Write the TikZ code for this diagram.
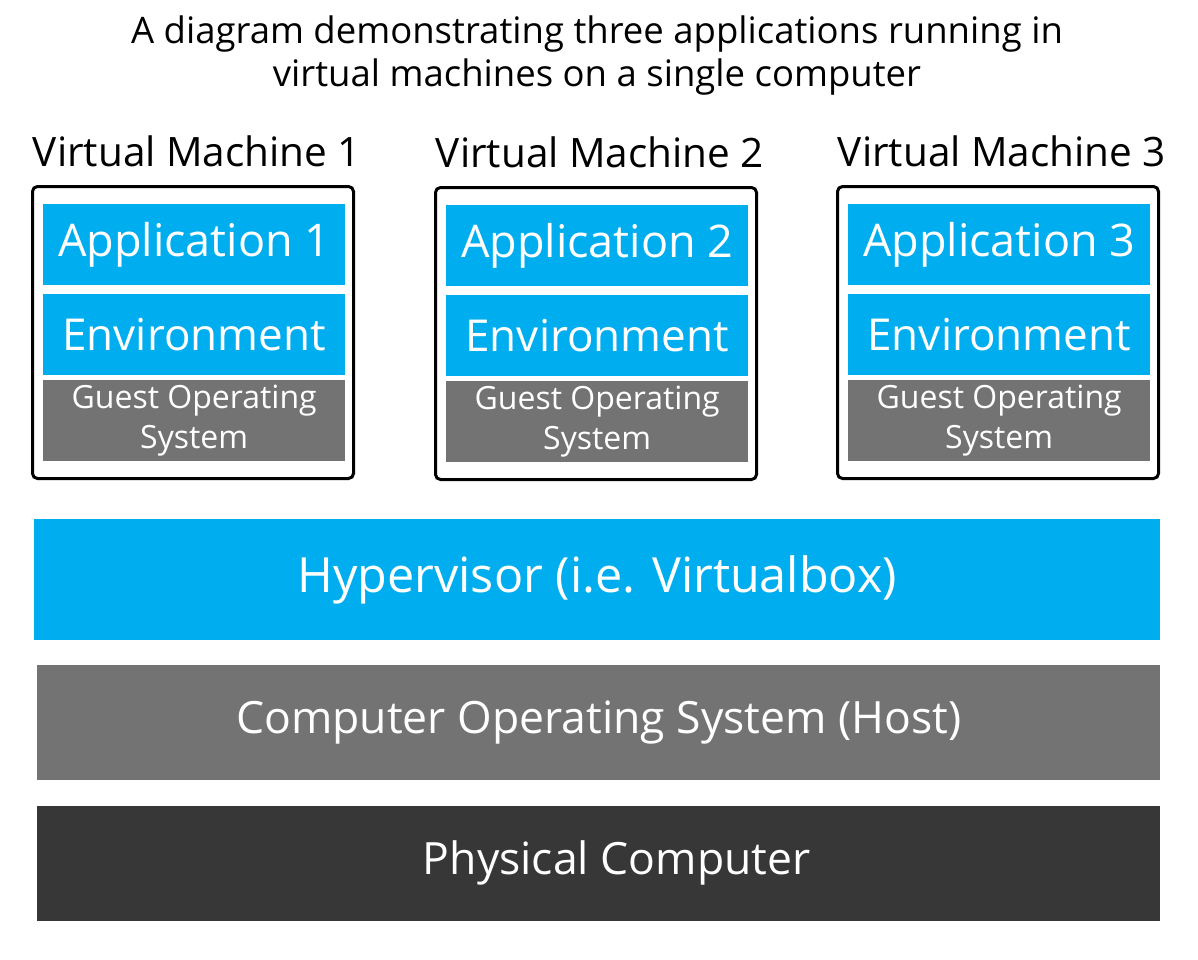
\documentclass[tikz,border=0pt]{standalone}
\usepackage{fontspec}
\setmainfont{Open Sans}
\usepackage{tikz}
\usetikzlibrary{positioning}
\definecolor{vmblue}{HTML}{00AEEF}
\definecolor{osgrey}{HTML}{737373}
\definecolor{hwdark}{HTML}{373737}

\begin{document}
\begin{tikzpicture}[x=1pt, y=-1pt,
      node distance=8pt and 8pt,
      layer/.style={fill=#1, text=white, inner sep=0pt, anchor=north west, align=center},
      appbox/.style={layer=vmblue, minimum width=302pt, minimum height=81pt, font=\fontsize{45}{50}\selectfont},
      guestbox/.style={layer=osgrey, minimum width=302pt, minimum height=81pt, font=\fontsize{32}{40}\selectfont},
      vmframe/.style={draw, line width=3pt, rounded corners=5pt, inner sep=0pt, anchor=north west, minimum width=321pt, minimum height=292pt},
      vmlabel/.style={font=\fontsize{40.5}{44}\selectfont, inner sep=0pt, xshift=4pt},
      stack/.style={layer=#1, minimum width=1123pt, minimum height=115pt, font=\fontsize{44.5}{50}\selectfont}]
    \useasboundingbox (0,0) rectangle (1198,960);
    \node[font=\fontsize{36.5}{43}\selectfont, align=center, inner sep=0pt] (title) at (597,56)
      {A diagram demonstrating three applications running in\\virtual machines on a single computer};
    % virtual machine 1
    \node[vmframe] (vm1) at (31,185) {};
    \node[vmlabel, above=18pt of vm1] (vm1label) {Virtual Machine 1};
    \node[appbox] (app1) at (43,204) {Application 1};
    \node[appbox, below=8pt of app1, font=\fontsize{44}{50}\selectfont] (env1) {Environment};
    \node[guestbox, below=5pt of env1] (guest1) {Guest Operating\\System};
    % virtual machine 2
    \node[vmframe] (vm2) at (434,186) {};
    \node[vmlabel, above=18pt of vm2] (vm2label) {Virtual Machine 2};
    \node[appbox] (app2) at (446,205) {Application 2};
    \node[appbox, below=8pt of app2, font=\fontsize{44}{50}\selectfont] (env2) {Environment};
    \node[guestbox, below=5pt of env2] (guest2) {Guest Operating\\System};
    % virtual machine 3
    \node[vmframe] (vm3) at (836,185) {};
    \node[vmlabel, above=18pt of vm3] (vm3label) {Virtual Machine 3};
    \node[appbox] (app3) at (848,204) {Application 3};
    \node[appbox, below=8pt of app3, font=\fontsize{44}{50}\selectfont] (env3) {Environment};
    \node[guestbox, below=5pt of env3] (guest3) {Guest Operating\\System};
    % host layers
    \node[stack=vmblue, minimum width=1126pt, minimum height=121pt, font=\fontsize{48.5}{52}\selectfont] (hyper) at (34,519) {Hypervisor (i.e. Virtualbox)};
    \node[stack=osgrey] (hostos) at (37,665) {Computer Operating System (Host)};
    \node[stack=hwdark, below=25pt of hostos] (physical) {\hspace*{36pt}Physical Computer};
  \end{tikzpicture}
\end{document}
